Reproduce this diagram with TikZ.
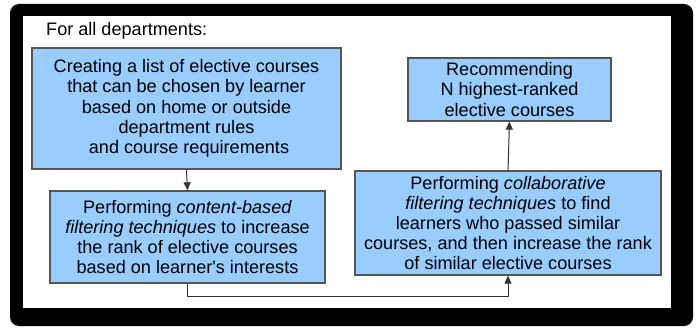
\documentclass[tikz,border=0pt]{standalone}
\usepackage{fontspec}
\setmainfont{Liberation Sans}
\usepackage{tikz}
\usetikzlibrary{arrows.meta}
\definecolor{boxblue}{HTML}{99CCFF}
\definecolor{boxline}{HTML}{555555}
\tikzstyle{stage} = [rectangle, draw=boxline, fill=boxblue, line width=1.3pt, align=center, inner sep=0pt,
  font=\fontsize{18.1}{20.2}\selectfont]
\tikzstyle{arrow} = [line width=1pt, draw=black!80, -{Triangle[length=8pt,width=7pt]}]

\begin{document}
\begin{tikzpicture}[x=1pt,y=-1pt]
\useasboundingbox (0,0) rectangle (698,329);
% frame
\fill [black, rounded corners=9pt] (10,4) rectangle (693,326);
\fill [white] (23,16) rectangle (671,308);
\node [anchor=base west, inner sep=0pt, font=\fontsize{18.1}{20.2}\selectfont] (title) at (46,36) {For all departments:};

\node [stage, minimum width=309pt, minimum height=121pt] (a) at (186.5,108.5)
  {Creating a list of elective courses\\that can be chosen by learner\\based on home or outside\\department rules\\\mbox{}\ and course requirements};
\node [stage, minimum width=275pt, minimum height=92pt] (b) at (187.5,237)
  {Performing \textit{content-based}\\\textit{filtering techniques} to increase\\the rank of elective courses\\based on learner\textquotesingle s interests};
\node [stage, minimum width=203pt, minimum height=63pt] (c) at (509.5,89.5)
  {Recommending\\N highest-ranked\\elective courses};
\node [stage, minimum width=306pt, minimum height=104pt] (d) at (508,223)
  {Performing \textit{collaborative}\\\textit{filtering techniques} to find\\learners who passed similar\\courses, and then increase the rank\\of similar elective courses};

\draw [arrow] (a.south) -- (b.north);
\draw [arrow] (b.south) -- ++(0,13) -| (d.south);
\draw [arrow] (d.north) -- (c.south);
\end{tikzpicture}
\end{document}
